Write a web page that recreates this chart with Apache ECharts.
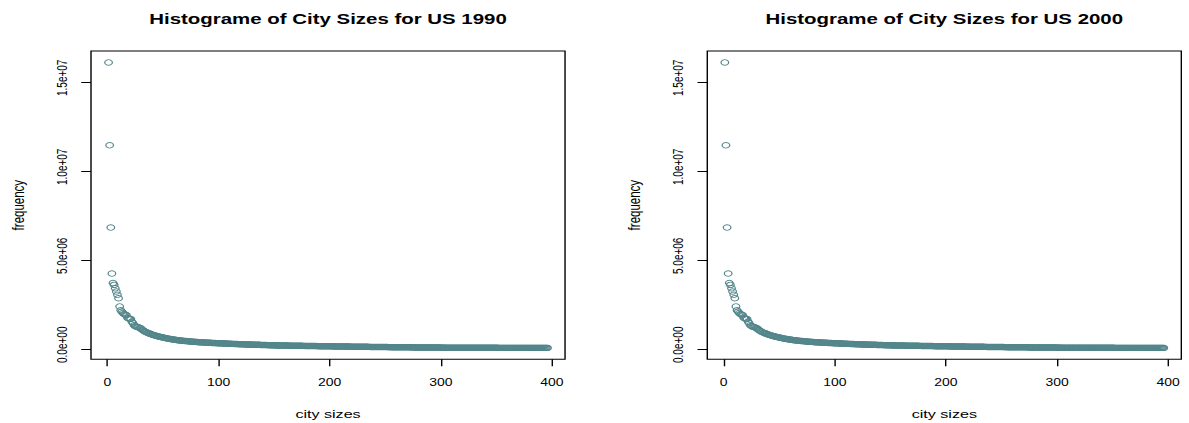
<!DOCTYPE html>
<html><head><meta charset="utf-8">
<script src="https://cdn.jsdelivr.net/npm/echarts@6/dist/echarts.min.js"></script>
<style>
html,body{margin:0;padding:0;background:#fff;overflow:hidden}
#main{width:849.29px;height:423px;transform:scaleX(1.4);transform-origin:0 0}
</style>
</head><body><div id="main"></div>
<script>
// City sizes (population, in thousands), ranked from largest to smallest
const sizes1990 = [
16090,11430,6810,4226,3690,3590,3400,3220,3030,2840,
2380,2160,2080,2010,1950,1915,1890,1745,1710,1680,
1677,1520,1435,1323,1275,1238,1226,1213,1172,1146,
1080,1040,1000,960,930,905,880,850,830,800,
780,760,740,725,706,690,675,660,645,630,
616,603,590,578,566,555,544,534,524,514,
505,497,486,481,470,466,455,451,442,437,
431,423,419,411,407,400,397,390,387,380,
377,371,369,363,361,355,353,347,346,341,
340,335,334,329,328,323,322,317,316,311,
309,305,303,299,297,293,292,287,286,281,
280,276,275,272,271,267,265,261,260,255,
253,250,249,245,244,241,240,237,236,233,
232,229,228,225,224,221,220,217,216,213,
212,209,208,205,204,201,200,197,196,193,
192,191,189,188,187,185,184,183,181,180,
179,178,177,176,175,174,172,171,171,170,
169,168,167,166,164,163,162,161,160,158,
157,156,155,154,153,152,151,150,149,148,
147,146,145,144,143,142,141,140,139,138,
137,136,135,134,133,132,131,130,129,128,
127,126,126,125,124,123,122,121,120,119,
118,118,117,116,115,114,113,113,112,111,
110,109,109,108,107,106,105,105,104,103,
102,102,101,100,99,98,98,97,96,95,
95,94,93,93,92,91,90,90,89,88,
88,87,86,86,85,84,84,83,82,82,
81,80,80,79,79,78,77,77,76,76,
75,74,74,73,73,72,72,71,71,70,
70,69,69,68,68,67,67,66,66,65,
65,64,64,63,63,63,62,62,61,61,
61,60,60,60,59,59,59,58,58,58,
57,57,57,57,56,56,56,56,55,55,
55,55,54,54,54,54,54,53,53,53,
53,53,53,52,52,52,52,52,52,52,
52,51,51,51,51,51,51,51,51,51,
51,51,50.9,50.8,50.8,50.7,50.6,50.6,50.5,50.5,
50.4,50.4,50.3,50.3,50.3,50.2,50.2,50.2,50.1,50.1,
50.1,50.1,50,50,50,50,50,50,50,50,
50,50,50,50,50,50
];
// the reference's 2000 panel shows the same points as its 1990 panel
const sizes2000 = sizes1990.slice();

const titles = ['Histograme of City Sizes for US 1990', 'Histograme of City Sizes for US 2000'];
const xTicks = [0, 100, 200, 300, 400];
const yTicks = [0, 5e6, 1e7, 1.5e7];
const yTickLabels = ['0.0e+00', '5.0e+06', '1.0e+07', '1.5e+07'];
const xName = 'city sizes';
const yName = 'frequency';

const FONT = '"Liberation Sans", Arial, Helvetica, sans-serif';
const COLOR = '#53868B';
const gridLefts = [65.0, 505.2];
const GRID_W = 338.6, GRID_TOP = 51, GRID_H = 308.3;

function toPoints(arr) { return arr.map((v, i) => [i + 1, v * 1000]); }
function rRange(vals) {
  const lo = Math.min.apply(null, vals), hi = Math.max.apply(null, vals);
  const pad = 0.04 * (hi - lo);
  return [lo - pad, hi + pad];
}

const panels = [sizes1990, sizes2000];
const option = {
  animation: false,
  backgroundColor: '#fff',
  title: [], grid: [], xAxis: [], yAxis: [], series: []
};
panels.forEach((arr, k) => {
  const pts = toPoints(arr);
  const xr = rRange(pts.map(p => p[0]));
  const yr = rRange(pts.map(p => p[1]));
  option.title.push({
    text: titles[k], left: gridLefts[k] + GRID_W / 2, top: 11.5, textAlign: 'center', padding: 0,
    textStyle: { fontFamily: FONT, fontSize: 14.6, fontWeight: 'bold', color: '#000' }
  });
  option.grid.push({
    left: gridLefts[k], top: GRID_TOP, width: GRID_W, height: GRID_H,
    show: true, borderColor: '#000', borderWidth: 1, backgroundColor: 'transparent',
    containLabel: false, outerBoundsMode: 'none'
  });
  option.xAxis.push({
    type: 'value', gridIndex: k, min: xr[0], max: xr[1],
    axisLine: { show: false, onZero: false },
    axisTick: { show: true, inside: false, length: 7, customValues: xTicks, lineStyle: { color: '#000', width: 1 } },
    axisLabel: { customValues: xTicks, margin: 18.5, fontSize: 10, color: '#000', fontFamily: FONT },
    splitLine: { show: false },
    name: xName, nameLocation: 'middle', nameGap: 48.5,
    nameTextStyle: { fontSize: 11.5, color: '#000', fontFamily: FONT }
  });
  option.yAxis.push({
    type: 'value', gridIndex: k, min: yr[0], max: yr[1],
    axisLine: { show: false, onZero: false },
    axisTick: { show: true, inside: false, length: 7, customValues: yTicks, lineStyle: { color: '#000', width: 1 } },
    axisLabel: {
      customValues: yTicks, rotate: 90, margin: 15.6, fontSize: 10, color: '#000', fontFamily: FONT,
      padding: [0, 0, 0, 8],
      formatter: v => { const i = yTicks.indexOf(v); return i >= 0 ? yTickLabels[i] : ''; }
    },
    splitLine: { show: false },
    name: yName, nameLocation: 'middle', nameGap: 46.3, nameRotate: 90,
    nameTextStyle: { fontSize: 11.5, color: '#000', fontFamily: FONT }
  });
  option.series.push({
    type: 'scatter', xAxisIndex: k, yAxisIndex: k, data: pts,
    symbol: 'circle', symbolSize: 5.5,
    itemStyle: { color: 'rgba(0,0,0,0)', borderColor: COLOR, borderWidth: 0.9, opacity: 1 },
    emphasis: { disabled: true }, silent: true
  });
});

const chart = echarts.init(document.getElementById('main'), null, { renderer: 'svg' });
chart.setOption(option);
</script></body></html>
